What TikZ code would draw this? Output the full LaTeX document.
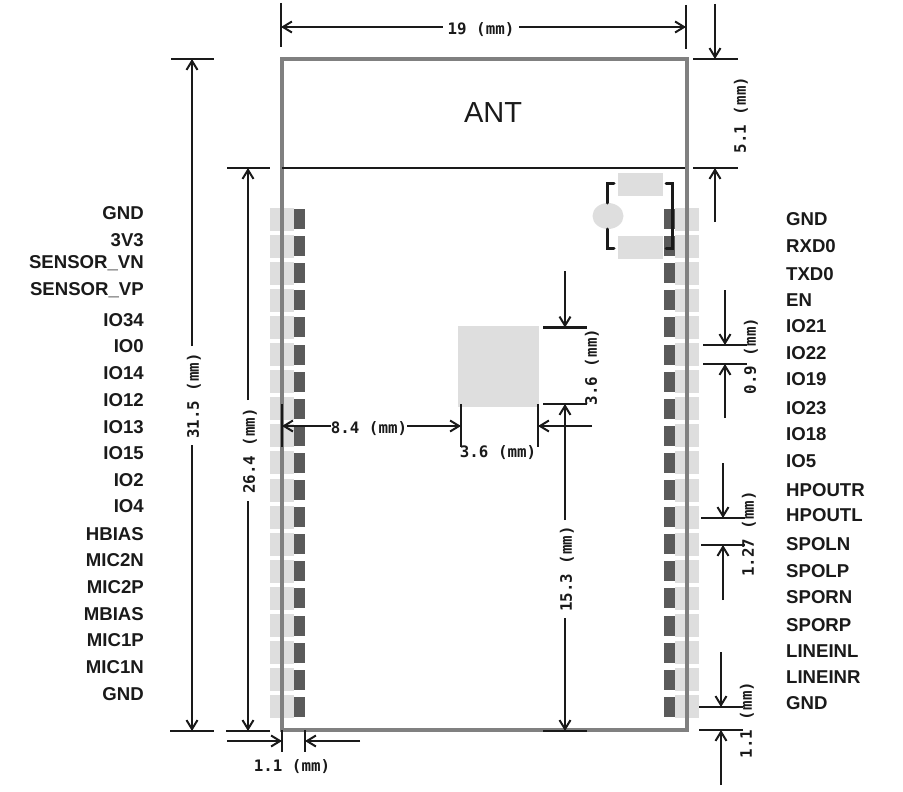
\documentclass[tikz,border=0pt]{standalone}
\usepackage{fontspec}
\setmainfont{Liberation Sans}
\newfontfamily\dimfont{DejaVu Sans Mono Bold}
\usetikzlibrary{arrows.meta}
\definecolor{padlight}{HTML}{DEDEDE}
\definecolor{paddark}{HTML}{5A5A5A}
\definecolor{frameg}{HTML}{808080}
\definecolor{ink}{HTML}{1A1A1A}
\tikzset{
  padl/.style={fill=padlight,draw=none},
  padd/.style={fill=paddark,draw=none},
  pinl/.style={anchor=base east,yshift=-6.5pt,inner sep=0pt,font=\fontsize{18.6}{18.6}\selectfont\bfseries,text=ink},
  pinr/.style={anchor=base west,yshift=-6.5pt,inner sep=0pt,font=\fontsize{18.6}{18.6}\selectfont\bfseries,text=ink},
  dimtext/.style={inner sep=0pt,font=\dimfont\fontsize{15.8}{16}\selectfont,text=ink},
  dimgap/.style={dimtext,inner xsep=1pt,inner ysep=1pt},
  extline/.style={draw=ink,line width=2.2pt},
  dimline/.style={draw=ink,line width=2pt},
  dimarrow/.style={dimline,-{Straight Barb[length=9pt,width=11pt,line width=2pt]}},
  brk/.style={draw=ink,line width=3pt,line cap=round}
}
\begin{document}
\begin{tikzpicture}[x=1pt,y=-1pt]
\useasboundingbox (0,0) rectangle (903,792);
% pads
\foreach \i in {0,...,18}{
  \pgfmathsetmacro{\yy}{209+27.1*\i}
  \fill[padl] (270,\yy-1.5) rectangle (294,\yy+21.5);
  \fill[padl] (675,\yy-1.5) rectangle (699,\yy+21.5);
  \fill[padd] (294,\yy) rectangle (305,\yy+20);
  \fill[padd] (664,\yy) rectangle (675,\yy+20);
}
% antenna-side parts
\fill[padl] (618,173) rectangle (663,196);
\fill[padl] (618,236) rectangle (663,259);
\fill[padl] (608,216) ellipse [x radius=15.5,y radius=13];
\draw[brk] (614,183.5) -- (607,183.5) -- (607,203);
\draw[brk] (614,248.5) -- (607,248.5) -- (607,229);
\draw[brk] (666,183.5) -- (672,183.5) -- (672,248.5) -- (666,248.5);
% central pad
\fill[padl] (458,326) rectangle (539,406.5);
% outline
\draw[frameg,line width=4pt,line join=miter] (282,59.5) rectangle (687,730);
\draw[ink,line width=2pt] (282,168) -- (685,168);
\node[font=\fontsize{29}{29}\selectfont,text=ink,inner sep=0pt] (ant) at (493,113) {ANT};
% pin labels left
\foreach \t/\y [count=\n] in {GND/213,3V3/240,SENSOR\_VN/262,SENSOR\_VP/289,IO34/320,IO0/346,IO14/373,IO12/400,IO13/427,IO15/453,IO2/480,IO4/506,HBIAS/534,MIC2N/560,MIC2P/587,MBIAS/614,MIC1P/640,MIC1N/667,GND/694}
  \node[pinl] (L\n) at (144,\y) {\t};
% pin labels right
\foreach \t/\y [count=\n] in {GND/219,RXD0/246,TXD0/274,EN/300,IO21/326,IO22/353,IO19/379,IO23/408,IO18/434,IO5/461,HPOUTR/490,HPOUTL/515,SPOLN/544,SPOLP/571,SPORN/597,SPORP/625,LINEINL/651,LINEINR/677,GND/703}
  \node[pinr] (R\n) at (786,\y) {\t};
% 19 mm
\draw[extline] (281,3) -- (281,47);
\draw[extline] (686,5) -- (686,49);
\node[dimgap,inner xsep=5pt] (d19) at (481,29.5) {19 (mm)};
\coordinate (d19a) at (281,27); \coordinate (d19b) at (686,27);
\draw[dimarrow] (d19.west |- d19a) -- (d19a);
\draw[dimarrow] (d19.east |- d19b) -- (d19b);
% 5.1 mm
\draw[extline] (693,59) -- (738,59);
\draw[extline] (693,168) -- (738,168);
\coordinate (a51s) at (715,4); \coordinate (a51e) at (715,59);
\coordinate (b51s) at (715,222); \coordinate (b51e) at (715,168);
\draw[dimarrow] (a51s) -- (a51e);
\draw[dimarrow] (b51s) -- (b51e);
\node[dimtext,rotate=90] (d51) at (741,115) {5.1 (mm)};
% 31.5 mm
\draw[extline] (171,59) -- (214,59);
\draw[extline] (170,731) -- (214,731);
\node[dimgap,rotate=90,inner xsep=6pt] (d315) at (194,396) {31.5 (mm)};
\coordinate (d315a) at (192,59); \coordinate (d315b) at (192,731);
\draw[dimarrow] (192,346) -- (d315a);
\draw[dimarrow] (192,445) -- (d315b);
% 26.4 mm
\draw[extline] (227,168) -- (270,168);
\draw[extline] (226,731) -- (270,731);
\node[dimgap,rotate=90,inner xsep=6pt] (d264) at (250,451) {26.4 (mm)};
\coordinate (d264a) at (248,168); \coordinate (d264b) at (248,731);
\draw[dimarrow] (248,400) -- (d264a);
\draw[dimarrow] (248,501) -- (d264b);
% 1.1 mm bottom
\draw[extline] (282,730) -- (282,752);
\draw[extline] (305,730) -- (305,752);
\coordinate (b11a) at (227,741); \coordinate (b11b) at (282,741);
\coordinate (b11c) at (360,741); \coordinate (b11d) at (305,741);
\draw[dimarrow] (b11a) -- (b11b);
\draw[dimarrow] (b11c) -- (b11d);
\node[dimtext] (d11b) at (292,767) {1.1 (mm)};
% 8.4 mm
\draw[extline] (282,404) -- (282,447);
\draw[extline] (461,404) -- (461,447);
\node[dimtext] (d84) at (369,428.5) {8.4 (mm)};
\coordinate (d84a) at (282,426); \coordinate (d84b) at (461,426);
\draw[dimarrow] (d84.west |- d84a) -- (d84a);
\draw[dimarrow] (d84.east |- d84b) -- (d84b);
% 3.6 mm horizontal
\draw[extline] (538,404) -- (538,447);
\coordinate (h36a) at (592,426); \coordinate (h36b) at (538,426);
\draw[dimarrow] (h36a) -- (h36b);
\node[dimtext] (d36h) at (498,453) {3.6 (mm)};
% 3.6 mm vertical and 15.3 mm
\draw[extline] (543,327.5) -- (587,327.5);
\draw[extline] (543,404) -- (587,404);
\draw[extline] (543,731) -- (587,731);
\coordinate (v36a) at (565,271); \coordinate (v36b) at (565,327.5);
\draw[dimarrow] (v36a) -- (v36b);
\node[dimtext,rotate=90] (d36v) at (592,367) {3.6 (mm)};
\node[dimgap,rotate=90,inner xsep=5pt] (d153) at (567,569) {15.3 (mm)};
\coordinate (d153a) at (565,404); \coordinate (d153b) at (565,731);
\draw[dimarrow] (565,520) -- (d153a);
\draw[dimarrow] (565,618) -- (d153b);
% 0.9 mm
\draw[extline] (703,345) -- (747,345);
\draw[extline] (703,364) -- (747,364);
\coordinate (a09s) at (725,290); \coordinate (a09e) at (725,345);
\coordinate (b09s) at (725,418); \coordinate (b09e) at (725,364);
\draw[dimarrow] (a09s) -- (a09e);
\draw[dimarrow] (b09s) -- (b09e);
\node[dimtext,rotate=90] (d09) at (751,356) {0.9 (mm)};
% 1.27 mm
\draw[extline] (701,518) -- (745,518);
\draw[extline] (701,545) -- (745,545);
\coordinate (a127s) at (723,463); \coordinate (a127e) at (723,518);
\coordinate (b127s) at (723,600); \coordinate (b127e) at (723,545);
\draw[dimarrow] (a127s) -- (a127e);
\draw[dimarrow] (b127s) -- (b127e);
\node[dimtext,rotate=90] (d127) at (749,534) {1.27 (mm)};
% 1.1 mm right
\draw[extline] (699,707) -- (743,707);
\draw[extline] (699,730) -- (743,730);
\coordinate (a11s) at (721,652); \coordinate (a11e) at (721,707);
\coordinate (b11s) at (721,785); \coordinate (b11e) at (721,730);
\draw[dimarrow] (a11s) -- (a11e);
\draw[dimarrow] (b11s) -- (b11e);
\node[dimtext,rotate=90] (d11r) at (747,720) {1.1 (mm)};
\end{tikzpicture}
\end{document}
